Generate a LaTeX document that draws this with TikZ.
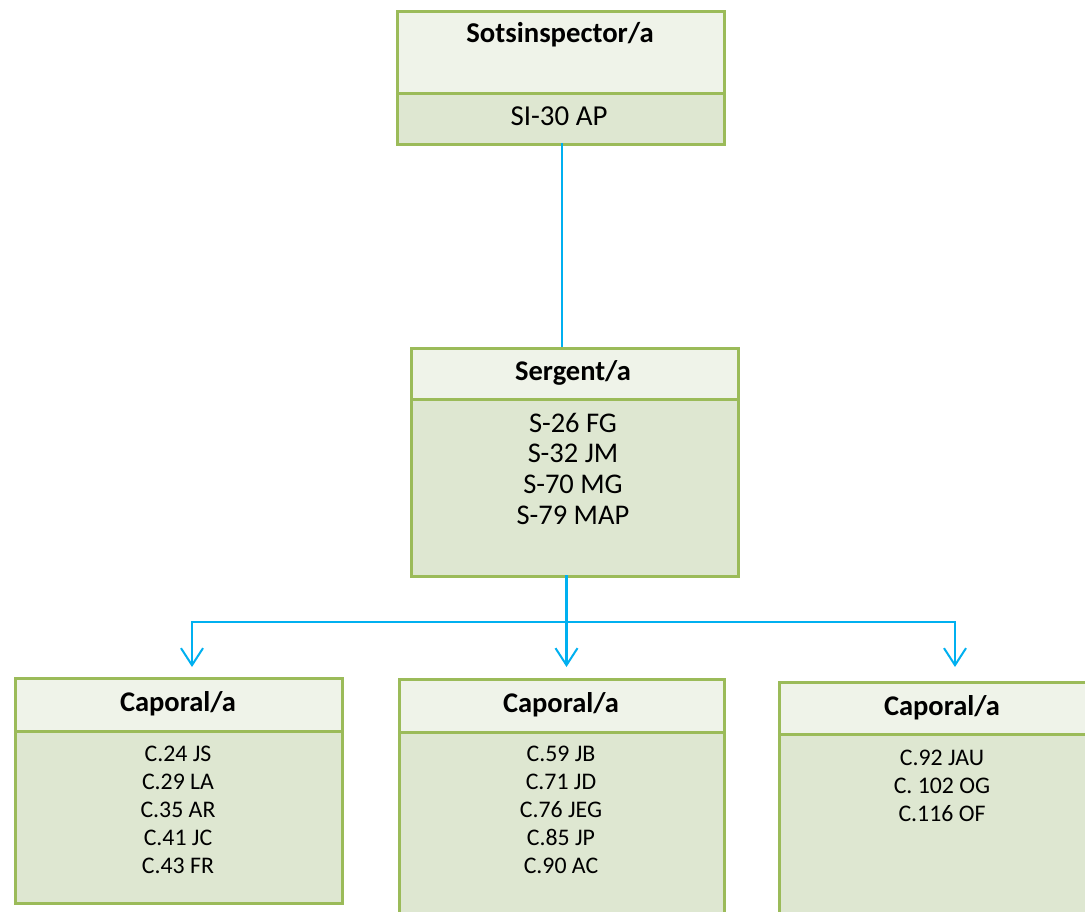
\documentclass[tikz,border=0pt]{standalone}
\usepackage{fontspec}
\setmainfont{Carlito}
\usetikzlibrary{arrows.meta}
\definecolor{bordergreen}{RGB}{155,187,89}
\definecolor{hdrfill}{RGB}{239,243,233}
\definecolor{bodyfill}{RGB}{222,231,209}
\definecolor{linkblue}{RGB}{0,176,240}
\begin{document}
\begin{tikzpicture}[x=1pt,y=-1pt,
  boxpart/.style={draw=bordergreen, line width=3pt, rectangle, inner sep=0pt, anchor=north west},
  hdrbox/.style={boxpart, fill=hdrfill},
  bodybox/.style={boxpart, fill=bodyfill},
  title/.style={anchor=base, inner sep=0pt, font=\bfseries\fontsize{28.5}{32}\selectfont},
  entry/.style={anchor=base, inner sep=0pt, font=\fontsize{23.8}{28}\selectfont},
  bigentry/.style={anchor=base, inner sep=0pt, font=\fontsize{28.5}{31}\selectfont},
  link/.style={draw=linkblue, line width=2.5pt},
  tip/.style={-{Straight Barb[length=17pt,width=22pt,line width=2pt]}}
]
\clip (0,0) rectangle (1085,912);
\fill[white] (0,0) rectangle (1085,912);

% top box
\node[hdrbox, minimum width=327pt, minimum height=82pt] (tophdr) at (396,10) {};
\node[bodybox, minimum width=327pt, minimum height=51pt] (topbody) at (396,92) {};
\node[title, font=\bfseries\fontsize{28.7}{32}\selectfont] (toptitle) at (560,42.7) {Sotsinspector/a};
\node[bigentry, font=\fontsize{28.9}{32}\selectfont] (topname) at (559,126) {SI-30 AP};

% sergent box
\node[hdrbox, minimum width=327pt, minimum height=51pt] (sghdr) at (410,347) {};
\node[bodybox, minimum width=327pt, minimum height=177pt] (sgbody) at (410,398) {};
\node[title] (sgtitle) at (573,380) {Sergent/a};
\foreach \t [count=\i from 0] in {S-26 FG,S-32 JM,S-70 MG,S-79 MAP}
  \node[bigentry] (sg-\i) at (573,432+30.8*\i) {\t};

% caporal boxes
\node[hdrbox, minimum width=327pt, minimum height=53pt] (cahdr) at (14,677) {};
\node[bodybox, minimum width=327pt, minimum height=172pt] (cabody) at (14,730) {};
\node[title] (catitle) at (178,711) {Caporal/a};
\foreach \t [count=\i from 0] in {C.24 JS,C.29 LA,C.35 AR,C.41 JC,C.43 FR}
  \node[entry] (ca-\i) at (178,761+28*\i) {\t};

\node[hdrbox, minimum width=325pt, minimum height=53pt] (cbhdr) at (398,678) {};
\node[bodybox, minimum width=325pt, minimum height=200pt] (cbbody) at (398,731) {};
\node[title] (cbtitle) at (561,712) {Caporal/a};
\foreach \t [count=\i from 0] in {C.59 JB,C.71 JD,C.76 JEG,C.85 JP,C.90 AC}
  \node[entry] (cb-\i) at (561,761+28*\i) {\t};

\node[hdrbox, minimum width=330pt, minimum height=52pt] (cchdr) at (778,681) {};
\node[bodybox, minimum width=330pt, minimum height=200pt] (ccbody) at (778,733) {};
\node[title] (cctitle) at (942,715) {Caporal/a};
\foreach \t [count=\i from 0] in {C.92 JAU,C. 102 OG,C.116 OF}
  \node[entry] (cc-\i) at (942,765+28*\i) {\t};

% connectors
\coordinate (topout) at (562,143);
\coordinate (sgout) at (566.5,575);
\coordinate (junc) at (566.5,622);
\coordinate (tipL) at (192,667);
\coordinate (tipM) at (566.5,667);
\coordinate (tipR) at (955,667);
\draw[link] (topout) -- (topout |- sghdr.north);
\draw[link] (sgout) -- (junc);
\draw[link, tip] (junc) -| (tipL);
\draw[link, tip] (junc) -- (tipM);
\draw[link, tip] (junc) -| (tipR);
\end{tikzpicture}
\end{document}
